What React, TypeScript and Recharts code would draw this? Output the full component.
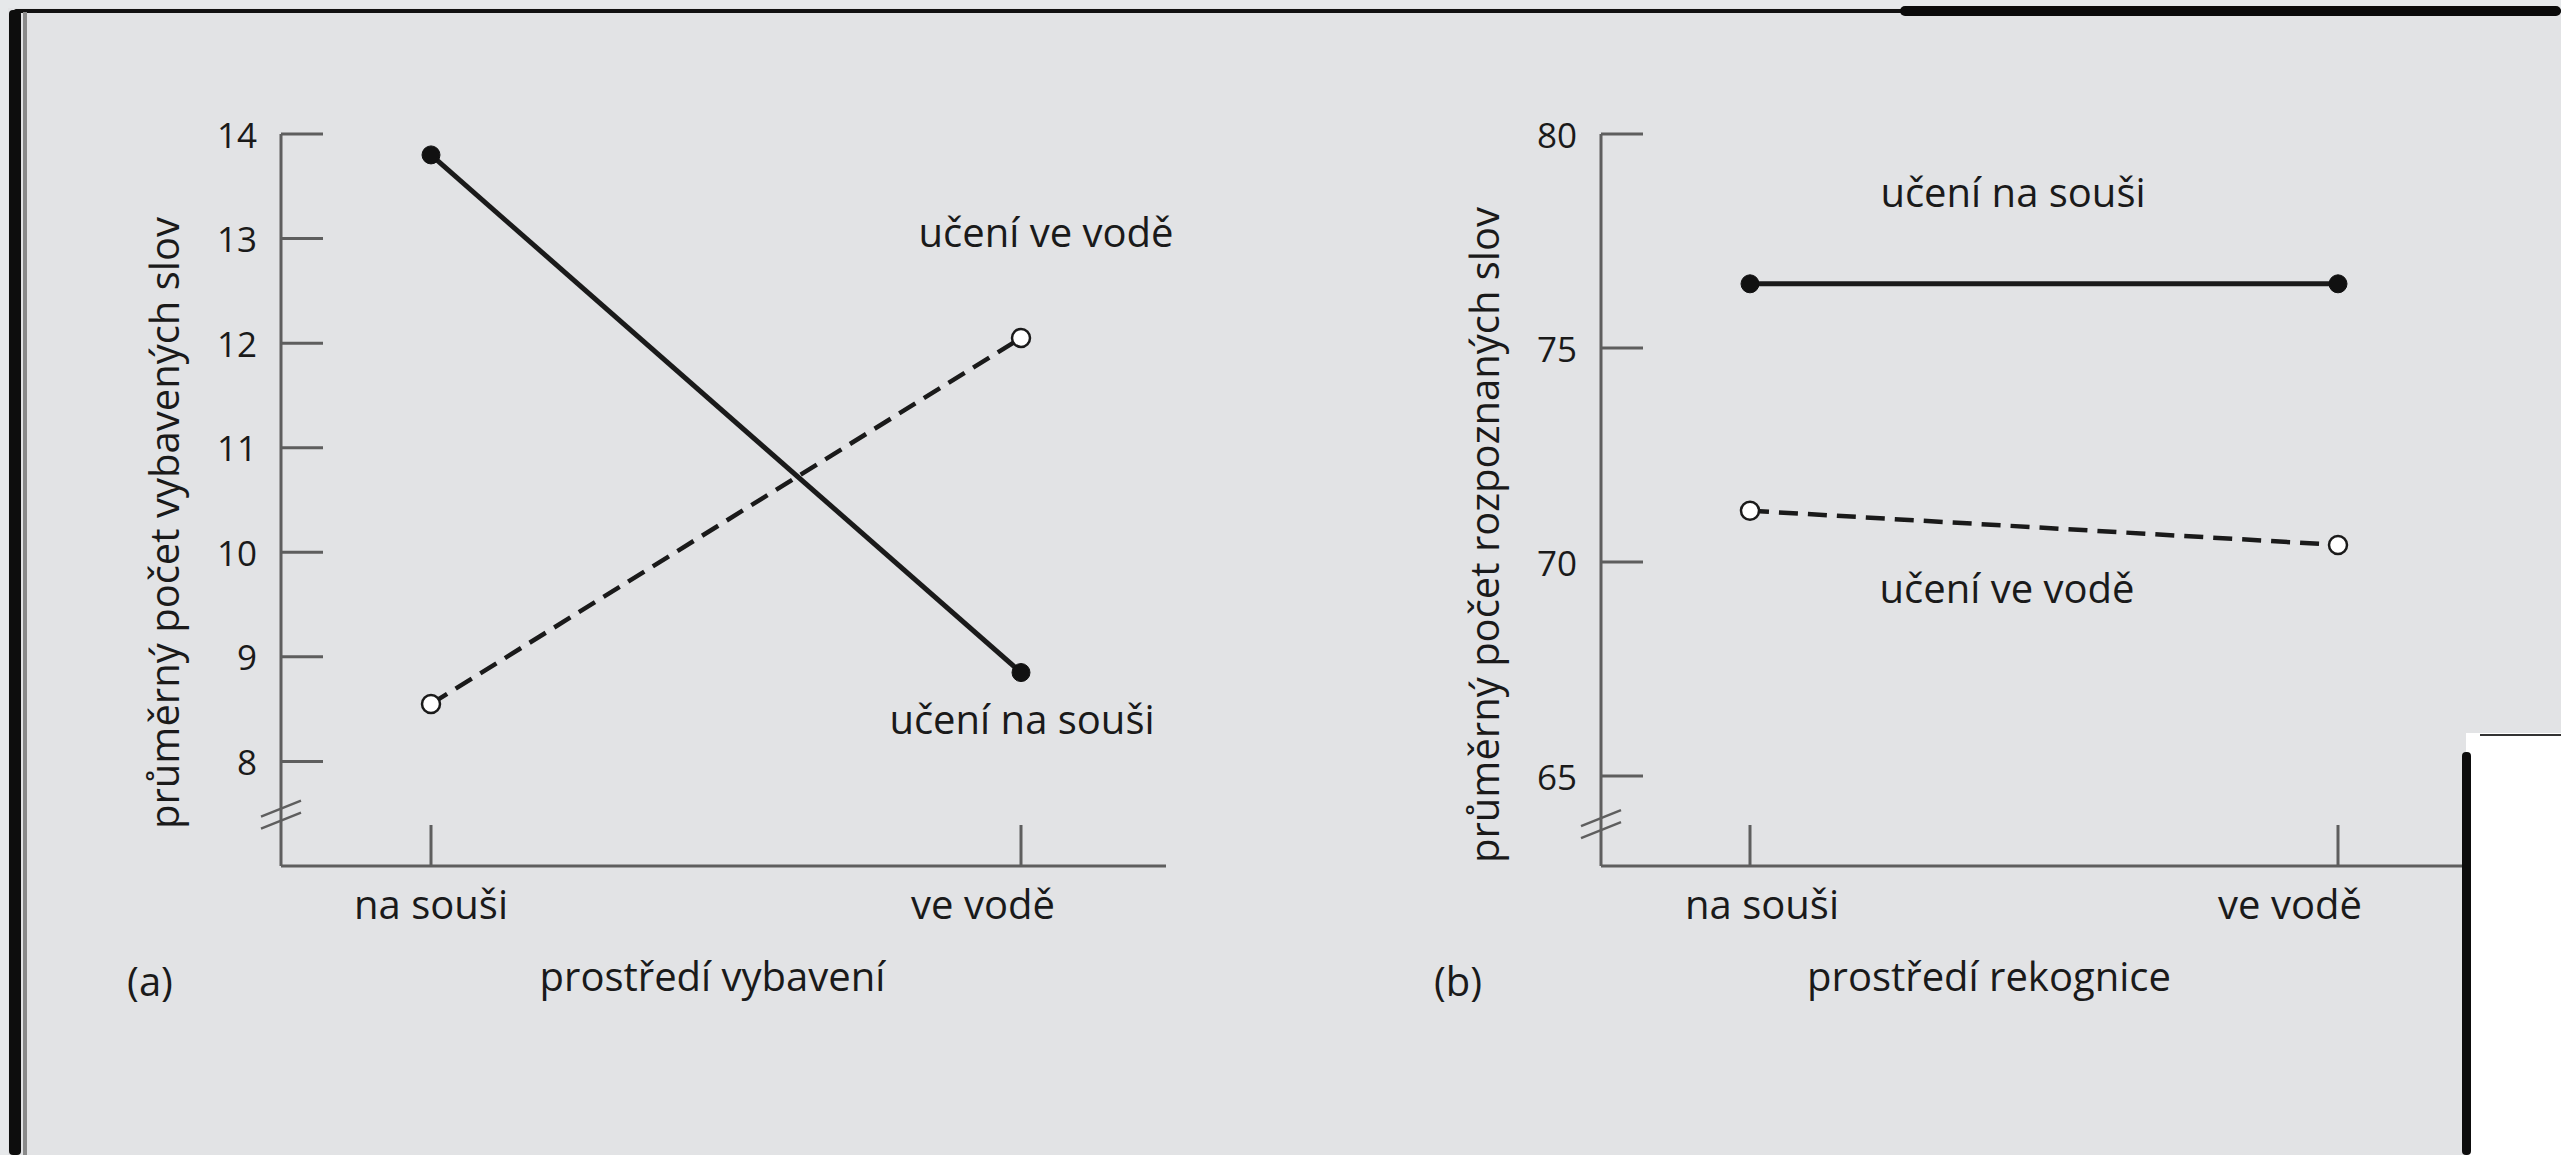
import React from "react";
import { LineChart, Line, XAxis, YAxis, ReferenceDot } from "recharts";

// values
const categories = ["na souši", "ve vodě"];
const recallLand = [13.8, 8.85];
const recallWater = [8.55, 12.05];
const recogLand = [76.5, 76.5];
const recogWater = [71.2, 70.4];

const recallTicks = [7.5, 8, 9, 10, 11, 12, 13, 14];
const recogTicks = [63.9, 65, 70, 75, 80];
const recallBreak = 7.5;
const recogBreak = 63.9;

const recallData = categories.map((c, i) => ({ env: c, land: recallLand[i], water: recallWater[i] }));
const recogData = categories.map((c, i) => ({ env: c, land: recogLand[i], water: recogWater[i] }));

const FONT = "'Open Sans', sans-serif";
const INK = "#1a1a1a";
const AXIS = "#5e5e5e";
const BG = "#e2e3e5";

const makeYTick = (breakAt: number) => (props: any) => {
  const { x, y, payload } = props;
  if (payload.value === breakAt) {
    return (
      <g stroke={AXIS} strokeWidth={2.5}>
        <line x1={x - 20} y1={y + 3} x2={x + 20} y2={y - 13} />
        <line x1={x - 20} y1={y + 15} x2={x + 20} y2={y - 1} />
      </g>
    );
  }
  return (
    <g>
      <line x1={x} x2={x + 42} y1={y} y2={y} stroke={AXIS} strokeWidth={3} />
      <text x={x - 24} y={y} textAnchor="end" dominantBaseline="central" fontFamily={FONT} fontSize={35} fontWeight={500} fill={INK}>
        {payload.value}
      </text>
    </g>
  );
};

const makeXTick = (shifts: number[]) => (props: any) => {
  const { x, y, payload, index } = props;
  return (
    <g>
      <line x1={x} x2={x} y1={y} y2={y - 41} stroke={AXIS} strokeWidth={3} />
      <text x={x + (shifts[index] || 0)} y={y + 37} textAnchor="middle" dominantBaseline="central" fontFamily={FONT} fontSize={40} fontWeight={500} fill={INK}>
        {payload.value}
      </text>
    </g>
  );
};

const yTitle = (text: string, dy: number) => (props: any) => {
  const vb = props.viewBox;
  const cx = vb.x - 18;
  const cy = vb.y + vb.height / 2 + dy;
  return (
    <text x={cx} y={cy} transform={`rotate(-90, ${cx}, ${cy})`} textAnchor="middle" dominantBaseline="central" fontFamily={FONT} fontSize={40} fontWeight={500} fill={INK}>
      {text}
    </text>
  );
};

const xTitle = (text: string, panel: string, dx: number, panelDx: number) => (props: any) => {
  const vb = props.viewBox;
  return (
    <g fontFamily={FONT} fontSize={40} fontWeight={500} fill={INK}>
      <text x={vb.x + vb.width / 2 + dx} y={vb.y + 109} textAnchor="middle" dominantBaseline="central">{text}</text>
      <text x={vb.x + panelDx} y={vb.y + 114} textAnchor="middle" dominantBaseline="central">{panel}</text>
    </g>
  );
};

const note = (text: string, dx: number) => (props: any) => {
  const vb = props.viewBox;
  return (
    <text x={vb.x + dx} y={vb.y} textAnchor="middle" dominantBaseline="central" fontFamily={FONT} fontSize={40} fontWeight={500} fill={INK}>
      {text}
    </text>
  );
};

const solidDot = { r: 9, fill: "#111", stroke: "#111", strokeWidth: 1, strokeDasharray: "0" };
const openDot = { r: 9, fill: "#fff", stroke: "#1a1a1a", strokeWidth: 2.5, strokeDasharray: "0" };

const App = () => {
  return (
    <div style={{ position: "absolute", left: 0, top: 0, width: 2561, height: 1155, background: BG, overflow: "hidden", fontFamily: FONT }}>
      <div style={{ position: "absolute", left: 0, top: 0 }}>
        <LineChart width={1300} height={1155} data={recallData} margin={{ top: 134, left: 181, right: 134, bottom: 189 }}>
          <XAxis
            dataKey="env"
            height={100}
            padding={{ left: 150, right: 145 }}
            axisLine={{ stroke: AXIS, strokeWidth: 3 }}
            tickLine={false}
            tickSize={0}
            tickMargin={0}
            tick={makeXTick([0, -38])}
            label={{ content: xTitle("prostředí vybavení", "(a)", -11, -131) }}
          />
          <YAxis
            width={100}
            domain={[7, 14]}
            ticks={recallTicks}
            interval={0}
            allowDataOverflow
            axisLine={{ stroke: AXIS, strokeWidth: 3 }}
            tickLine={false}
            tickSize={0}
            tickMargin={0}
            tick={makeYTick(recallBreak)}
            label={{ content: yTitle("průměrný počet vybavených slov", 23) }}
          />
          <Line dataKey="land" stroke={INK} strokeWidth={5} dot={solidDot} activeDot={false} isAnimationActive={false} />
          <Line dataKey="water" stroke={INK} strokeWidth={4.5} strokeDasharray="19 10" dot={openDot} activeDot={false} isAnimationActive={false} />
          <ReferenceDot x="ve vodě" y={13.07} r={0} label={{ content: note("učení ve vodě", 25) }} />
          <ReferenceDot x="ve vodě" y={8.41} r={0} label={{ content: note("učení na souši", 1) }} />
        </LineChart>
      </div>
      <div style={{ position: "absolute", left: 1300, top: 0 }}>
        <LineChart width={1261} height={1155} data={recogData} margin={{ top: 134, left: 201, right: 78, bottom: 189 }}>
          <XAxis
            dataKey="env"
            height={100}
            padding={{ left: 149, right: 145 }}
            axisLine={{ stroke: AXIS, strokeWidth: 3 }}
            tickLine={false}
            tickSize={0}
            tickMargin={0}
            tick={makeXTick([12, -48])}
            label={{ content: xTitle("prostředí rekognice", "(b)", -53, -143) }}
          />
          <YAxis
            width={100}
            domain={[62.9, 80]}
            ticks={recogTicks}
            interval={0}
            allowDataOverflow
            axisLine={{ stroke: AXIS, strokeWidth: 3 }}
            tickLine={false}
            tickSize={0}
            tickMargin={0}
            tick={makeYTick(recogBreak)}
            label={{ content: yTitle("průměrný počet rozpoznaných slov", 35) }}
          />
          <Line dataKey="land" stroke={INK} strokeWidth={5} dot={solidDot} activeDot={false} isAnimationActive={false} />
          <Line dataKey="water" stroke={INK} strokeWidth={4.5} strokeDasharray="19 10" dot={openDot} activeDot={false} isAnimationActive={false} />
          <ReferenceDot x="ve vodě" y={78.65} r={0} label={{ content: note("učení na souši", -325) }} />
          <ReferenceDot x="ve vodě" y={69.41} r={0} label={{ content: note("učení ve vodě", -331) }} />
        </LineChart>
      </div>

      {/* scan frame */}
      <div style={{ position: "absolute", left: 0, top: 0, width: 2561, height: 8, background: "#e6e8ea" }} />
      <div style={{ position: "absolute", left: 0, top: 0, width: 8, height: 1155, background: "#e6e8ea" }} />
      <div style={{ position: "absolute", left: 14, top: 9, width: 2547, height: 4, background: "#111", borderRadius: 2 }} />
      <div style={{ position: "absolute", left: 1900, top: 6, width: 661, height: 10, background: "#0a0a0a", borderRadius: 5 }} />
      <div style={{ position: "absolute", left: 9, top: 10, width: 12, height: 1145, background: "#0d0d0d", borderRadius: 4 }} />
      <div style={{ position: "absolute", left: 23, top: 12, width: 4, height: 1143, background: "#8a8a8a" }} />

      {/* white patch bottom-right */}
      <div style={{ position: "absolute", left: 2466, top: 733, width: 95, height: 422, background: "#fff" }} />
      <div style={{ position: "absolute", left: 2462, top: 752, width: 9, height: 403, background: "#0d0d0d", borderRadius: 4 }} />
      <div style={{ position: "absolute", left: 2480, top: 734, width: 81, height: 2, background: "#333" }} />
    </div>
  );
};

export default App;
